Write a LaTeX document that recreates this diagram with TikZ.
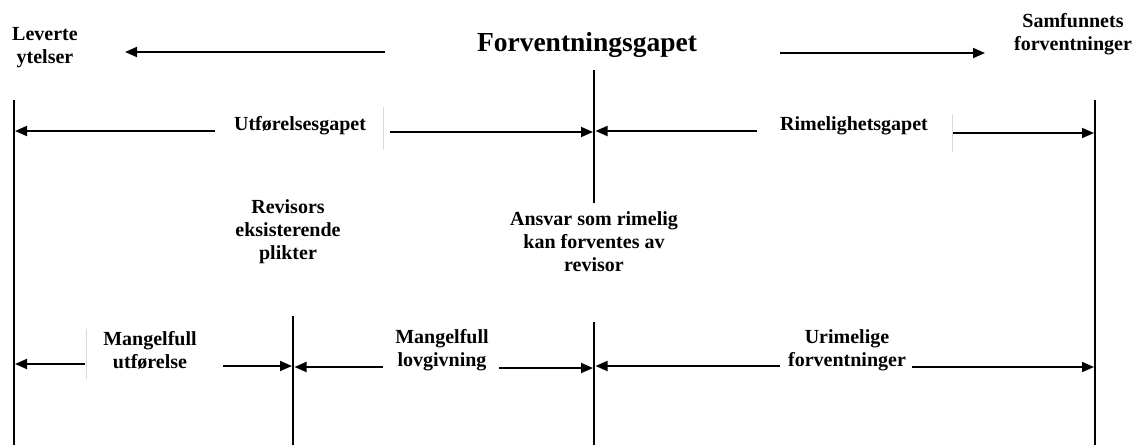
\documentclass[tikz,border=0pt]{standalone}
\usepackage{fontspec}
\setmainfont{Liberation Serif}
\usetikzlibrary{arrows.meta}
\begin{document}
\begin{tikzpicture}[x=1pt,y=-1pt,
  lbl/.style={font=\bfseries\fontsize{20}{23}\selectfont, align=center, inner sep=0pt},
  big/.style={font=\bfseries\fontsize{27.5}{30}\selectfont, inner sep=0pt},
  arr/.style={line width=1.8pt, -{Triangle[length=12pt,width=10pt]}},
  vline/.style={line width=1.8pt},
  faint/.style={line width=0.6pt, black!15}]
\useasboundingbox (0,0) rectangle (1141,445);
% texts
\node[lbl] (lev) at (45,47.5) {Leverte\\ytelser};
\node[lbl] (sam) at (1073,34) {Samfunnets\\forventninger};
\node[big] (fg) at (587,45) {Forventningsgapet};
\node[lbl] (ufg) at (300,126) {Utførelsesgapet};
\node[lbl] (rg) at (854,126) {Rimelighetsgapet};
\node[lbl] (rep) at (288,232) {Revisors\\eksisterende\\plikter};
\node[lbl] (ans) at (594,242) {Ansvar som rimelig\\kan forventes av\\revisor};
\node[lbl] (mu) at (150,350.5) {Mangelfull\\utførelse};
\node[lbl] (ml) at (442,350.5) {Mangelfull\\lovgivning};
\node[lbl] (uf) at (847,350.5) {Urimelige\\forventninger};
% vertical lines
\coordinate (Lt) at (14,100);   \coordinate (Lb) at (14,445);
\coordinate (Mt) at (594,70);   \coordinate (Mm) at (594,203);
\coordinate (Mu) at (594,322);  \coordinate (Mb) at (594,445);
\coordinate (Rt) at (1095,100); \coordinate (Rb) at (1095,445);
\coordinate (Qt) at (293,316);  \coordinate (Qb) at (293,445);
\draw[vline] (Lt) -- (Lb);
\draw[vline] (Mt) -- (Mm);
\draw[vline] (Mu) -- (Mb);
\draw[vline] (Rt) -- (Rb);
\draw[vline] (Qt) -- (Qb);
% faint ticks
\coordinate (f1a) at (383,107); \coordinate (f1b) at (383,150);
\coordinate (f2a) at (952,114); \coordinate (f2b) at (952,152);
\coordinate (f3a) at (86,329);  \coordinate (f3b) at (86,379);
\draw[faint] (f1a) -- (f1b);
\draw[faint] (f2a) -- (f2b);
\draw[faint] (f3a) -- (f3b);
% top arrows
\coordinate (a1s) at (385,52); \coordinate (a1e) at (125,52);
\coordinate (a2s) at (780,53); \coordinate (a2e) at (985,53);
\draw[arr] (a1s) -- (a1e);
\draw[arr] (a2s) -- (a2e);
% second row
\coordinate (b1s) at (215,131); \coordinate (b1e) at (15,131);
\coordinate (b2s) at (390,132); \coordinate (b2e) at (593,132);
\coordinate (b3s) at (757,131); \coordinate (b3e) at (595.5,131);
\coordinate (b4s) at (953,133); \coordinate (b4e) at (1094,133);
\draw[arr] (b1s) -- (b1e);
\draw[arr] (b2s) -- (b2e);
\draw[arr] (b3s) -- (b3e);
\draw[arr] (b4s) -- (b4e);
% bottom row
\coordinate (c1s) at (85,364);  \coordinate (c1e) at (15,364);
\coordinate (c2s) at (223,366); \coordinate (c2e) at (292,366);
\coordinate (c3s) at (383,367); \coordinate (c3e) at (294.5,367);
\coordinate (c4s) at (499,368); \coordinate (c4e) at (593,368);
\coordinate (c5s) at (780,366); \coordinate (c5e) at (595.5,366);
\coordinate (c6s) at (912,367); \coordinate (c6e) at (1094,367);
\draw[arr] (c1s) -- (c1e);
\draw[arr] (c2s) -- (c2e);
\draw[arr] (c3s) -- (c3e);
\draw[arr] (c4s) -- (c4e);
\draw[arr] (c5s) -- (c5e);
\draw[arr] (c6s) -- (c6e);
\end{tikzpicture}
\end{document}
